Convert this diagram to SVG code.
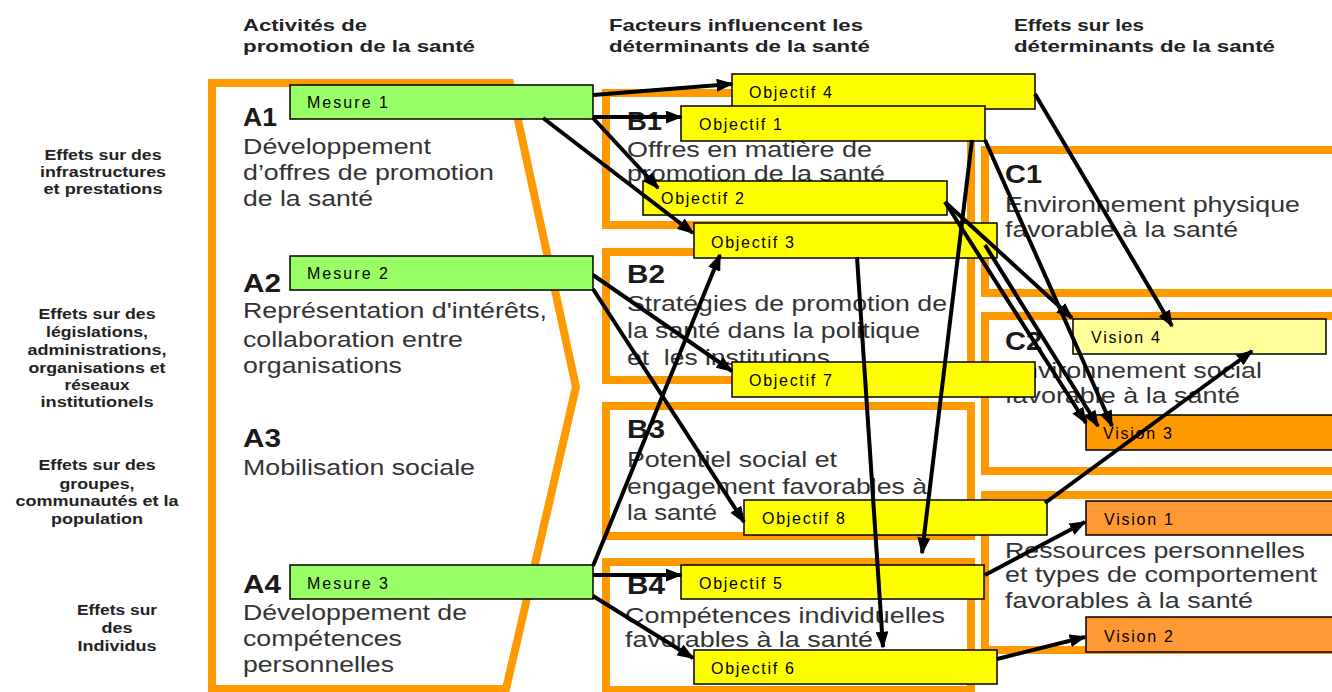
<svg xmlns="http://www.w3.org/2000/svg" width="1332" height="692" viewBox="0 0 1332 692">
<style>
.hd{font-family:"Liberation Sans",Arial,sans-serif;font-weight:bold;font-size:17px;fill:#222}
.lb{font-family:"Liberation Sans",Arial,sans-serif;font-weight:bold;font-size:14px;fill:#222;text-anchor:middle}
.id{font-family:"Liberation Sans",Arial,sans-serif;font-weight:bold;font-size:26px;fill:#1a1a1a}
.bd{font-family:"Liberation Sans",Arial,sans-serif;font-size:22px;fill:#333;white-space:pre}
.bx{font-family:"Liberation Sans",Arial,sans-serif;font-size:16px;fill:#000}
.fr{fill:none;stroke:#FF9900;stroke-width:8}
.mes{fill:#99FF66;stroke:#000;stroke-width:1.5}
.obj{fill:#FFFF00;stroke:#000;stroke-width:1.5}
.v4{fill:#FFFF99;stroke:#000;stroke-width:1.5}
.v3{fill:#FF9900;stroke:#000;stroke-width:1.5}
.v1{fill:#FF9933;stroke:#000;stroke-width:1.5}
.cn{stroke:#000;stroke-width:4;fill:none;marker-end:url(#ah)}
</style>
<defs>
<marker id="ah" viewBox="0 0 10 10" refX="9" refY="5" markerWidth="17" markerHeight="13" markerUnits="userSpaceOnUse" orient="auto" preserveAspectRatio="none">
<path d="M0,0 L10,5 L0,10 z" fill="#000"/>
</marker>
</defs>
<rect width="1332" height="692" fill="#fff"/>

<g id="headers">
<text class="hd" x="243" y="31" textLength="124" lengthAdjust="spacingAndGlyphs">Activités de</text>
<text class="hd" x="243" y="52" textLength="232" lengthAdjust="spacingAndGlyphs">promotion de la santé</text>
<text class="hd" x="609" y="31" textLength="254" lengthAdjust="spacingAndGlyphs">Facteurs influencent les</text>
<text class="hd" x="609" y="52" textLength="261" lengthAdjust="spacingAndGlyphs">déterminants de la santé</text>
<text class="hd" x="1014" y="31" textLength="130" lengthAdjust="spacingAndGlyphs">Effets sur les</text>
<text class="hd" x="1014" y="52" textLength="261" lengthAdjust="spacingAndGlyphs">déterminants de la santé</text>
</g>

<g id="side-labels">
<text class="lb" x="103" y="160" textLength="117" lengthAdjust="spacingAndGlyphs">Effets sur des</text>
<text class="lb" x="103" y="177" textLength="126" lengthAdjust="spacingAndGlyphs">infrastructures</text>
<text class="lb" x="103" y="194" textLength="119" lengthAdjust="spacingAndGlyphs">et prestations</text>
<text class="lb" x="97" y="319" textLength="117" lengthAdjust="spacingAndGlyphs">Effets sur des</text>
<text class="lb" x="97" y="337" textLength="102" lengthAdjust="spacingAndGlyphs">législations,</text>
<text class="lb" x="97" y="355" textLength="139" lengthAdjust="spacingAndGlyphs">administrations,</text>
<text class="lb" x="97" y="373" textLength="137" lengthAdjust="spacingAndGlyphs">organisations et</text>
<text class="lb" x="97" y="390" textLength="65" lengthAdjust="spacingAndGlyphs">réseaux</text>
<text class="lb" x="97" y="407" textLength="113" lengthAdjust="spacingAndGlyphs">institutionels</text>
<text class="lb" x="97" y="470" textLength="117" lengthAdjust="spacingAndGlyphs">Effets sur des</text>
<text class="lb" x="97" y="489" textLength="75" lengthAdjust="spacingAndGlyphs">groupes,</text>
<text class="lb" x="97" y="506" textLength="163" lengthAdjust="spacingAndGlyphs">communautés et la</text>
<text class="lb" x="97" y="524" textLength="92" lengthAdjust="spacingAndGlyphs">population</text>
<text class="lb" x="117" y="615" textLength="80" lengthAdjust="spacingAndGlyphs">Effets sur</text>
<text class="lb" x="117" y="633" textLength="31" lengthAdjust="spacingAndGlyphs">des</text>
<text class="lb" x="117" y="651" textLength="79" lengthAdjust="spacingAndGlyphs">Individus</text>
</g>

<g id="frame-A">
<path class="fr" stroke-width="9" d="M212,83 L510,83 L576,387 L506,689 L212,689 Z"/>
<text class="id" x="243" y="126" textLength="34" lengthAdjust="spacingAndGlyphs">A1</text>
<text class="bd" x="243" y="154" textLength="188" lengthAdjust="spacingAndGlyphs">Développement</text>
<text class="bd" x="243" y="180" textLength="251" lengthAdjust="spacingAndGlyphs">d’offres de promotion</text>
<text class="bd" x="243" y="206" textLength="130" lengthAdjust="spacingAndGlyphs">de la santé</text>
<text class="id" x="243" y="292" textLength="38" lengthAdjust="spacingAndGlyphs">A2</text>
<text class="bd" x="243" y="318" textLength="304" lengthAdjust="spacingAndGlyphs">Représentation d'intérêts,</text>
<text class="bd" x="243" y="347" textLength="220" lengthAdjust="spacingAndGlyphs">collaboration entre</text>
<text class="bd" x="243" y="373" textLength="159" lengthAdjust="spacingAndGlyphs">organisations</text>
<text class="id" x="243" y="447" textLength="38" lengthAdjust="spacingAndGlyphs">A3</text>
<text class="bd" x="243" y="475" textLength="232" lengthAdjust="spacingAndGlyphs">Mobilisation sociale</text>
<text class="id" x="243" y="593" textLength="38" lengthAdjust="spacingAndGlyphs">A4</text>
<text class="bd" x="243" y="620" textLength="224" lengthAdjust="spacingAndGlyphs">Développement de</text>
<text class="bd" x="243" y="646" textLength="159" lengthAdjust="spacingAndGlyphs">compétences</text>
<text class="bd" x="243" y="672" textLength="151" lengthAdjust="spacingAndGlyphs">personnelles</text>
</g>

<g id="frame-B1">
<rect class="fr" x="606" y="93" width="365" height="132"/>
<text class="id" x="627" y="130" textLength="35" lengthAdjust="spacingAndGlyphs">B1</text>
<text class="bd" x="627" y="157" textLength="245" lengthAdjust="spacingAndGlyphs">Offres en matière de</text>
<text class="bd" x="627" y="181" textLength="258" lengthAdjust="spacingAndGlyphs">promotion de la santé</text>
</g>
<g id="frame-B2">
<rect class="fr" x="606" y="252" width="365" height="128"/>
<text class="id" x="627" y="283" textLength="38" lengthAdjust="spacingAndGlyphs">B2</text>
<text class="bd" x="627" y="311" textLength="320" lengthAdjust="spacingAndGlyphs">Stratégies de promotion de</text>
<text class="bd" x="627" y="338" textLength="293" lengthAdjust="spacingAndGlyphs">la santé dans la politique</text>
<text class="bd" x="627" y="365" textLength="203" lengthAdjust="spacingAndGlyphs" xml:space="preserve">et  les institutions</text>
</g>
<g id="frame-B3">
<rect class="fr" x="606" y="406" width="365" height="130"/>
<text class="id" x="627" y="438" textLength="38" lengthAdjust="spacingAndGlyphs">B3</text>
<text class="bd" x="627" y="467" textLength="210" lengthAdjust="spacingAndGlyphs">Potentiel social et</text>
<text class="bd" x="627" y="494" textLength="300" lengthAdjust="spacingAndGlyphs">engagement favorables à</text>
<text class="bd" x="627" y="520" textLength="90" lengthAdjust="spacingAndGlyphs">la santé</text>
</g>
<g id="frame-B4">
<rect class="fr" x="606" y="562" width="365" height="128"/>
<text class="id" x="627" y="594" textLength="38" lengthAdjust="spacingAndGlyphs">B4</text>
<text class="bd" x="625" y="623" textLength="320" lengthAdjust="spacingAndGlyphs">Compétences individuelles</text>
<text class="bd" x="625" y="647" textLength="248" lengthAdjust="spacingAndGlyphs">favorables à la santé</text>
</g>

<g id="frame-C1">
<rect class="fr" stroke-width="7" x="985" y="150" width="400" height="143"/>
<text class="id" x="1005" y="183" textLength="37" lengthAdjust="spacingAndGlyphs">C1</text>
<text class="bd" x="1005" y="212" textLength="295" lengthAdjust="spacingAndGlyphs">Environnement physique</text>
<text class="bd" x="1005" y="237" textLength="233" lengthAdjust="spacingAndGlyphs">favorable à la santé</text>
</g>
<g id="frame-C2">
<rect class="fr" stroke-width="7" x="985" y="316" width="400" height="155"/>
<text class="id" x="1005" y="350" textLength="37" lengthAdjust="spacingAndGlyphs">C2</text>
<text class="bd" x="1005" y="378" textLength="257" lengthAdjust="spacingAndGlyphs">Environnement social</text>
<text class="bd" x="1005" y="403" textLength="235" lengthAdjust="spacingAndGlyphs">favorable à la santé</text>
</g>
<g id="frame-C3">
<rect class="fr" stroke-width="7" x="985" y="495" width="400" height="155"/>
<text class="bd" x="1005" y="558" textLength="300" lengthAdjust="spacingAndGlyphs">Ressources personnelles</text>
<text class="bd" x="1005" y="582" textLength="312" lengthAdjust="spacingAndGlyphs">et types de comportement</text>
<text class="bd" x="1005" y="608" textLength="248" lengthAdjust="spacingAndGlyphs">favorables à la santé</text>
</g>

<g id="mesure-1"><rect class="mes" x="290" y="85" width="303" height="34"/><text class="bx" x="307" y="108" textLength="81" lengthAdjust="spacing">Mesure 1</text></g>
<g id="mesure-2"><rect class="mes" x="290" y="256" width="303" height="34"/><text class="bx" x="307" y="279" textLength="81" lengthAdjust="spacing">Mesure 2</text></g>
<g id="mesure-3"><rect class="mes" x="290" y="565" width="303" height="34"/><text class="bx" x="307" y="589" textLength="81" lengthAdjust="spacing">Mesure 3</text></g>

<g id="objectif-4"><rect class="obj" x="732" y="74" width="303" height="35"/><text class="bx" x="749" y="98" textLength="83" lengthAdjust="spacing">Objectif 4</text></g>
<g id="objectif-1"><rect class="obj" x="681" y="106" width="304" height="35"/><text class="bx" x="699" y="130" textLength="83" lengthAdjust="spacing">Objectif 1</text></g>
<g id="objectif-2"><rect class="obj" x="643" y="181" width="304" height="34"/><text class="bx" x="661" y="204" textLength="83" lengthAdjust="spacing">Objectif 2</text></g>
<g id="objectif-3"><rect class="obj" x="694" y="223" width="303" height="35"/><text class="bx" x="711" y="248" textLength="83" lengthAdjust="spacing">Objectif 3</text></g>
<g id="objectif-7"><rect class="obj" x="732" y="362" width="303" height="35"/><text class="bx" x="749" y="386" textLength="83" lengthAdjust="spacing">Objectif 7</text></g>
<g id="objectif-8"><rect class="obj" x="744" y="500" width="303" height="35"/><text class="bx" x="762" y="524" textLength="83" lengthAdjust="spacing">Objectif 8</text></g>
<g id="objectif-5"><rect class="obj" x="681" y="565" width="303" height="34"/><text class="bx" x="699" y="589" textLength="83" lengthAdjust="spacing">Objectif 5</text></g>
<g id="objectif-6"><rect class="obj" x="694" y="650" width="303" height="34"/><text class="bx" x="711" y="674" textLength="83" lengthAdjust="spacing">Objectif 6</text></g>

<g id="vision-4"><rect class="v4" x="1073" y="319" width="253" height="35"/><text class="bx" x="1091" y="343" textLength="69" lengthAdjust="spacing">Vision 4</text></g>
<g id="vision-3"><rect class="v3" x="1086" y="415" width="260" height="35"/><text class="bx" x="1103" y="439" textLength="69" lengthAdjust="spacing">Vision 3</text></g>
<g id="vision-1"><rect class="v1" x="1086" y="501" width="260" height="34"/><text class="bx" x="1104" y="525" textLength="69" lengthAdjust="spacing">Vision 1</text></g>
<g id="vision-2"><rect class="v1" x="1086" y="617" width="260" height="35"/><text class="bx" x="1104" y="642" textLength="69" lengthAdjust="spacing">Vision 2</text></g>

<g id="connectors">
<line class="cn" x1="593" y1="95" x2="732" y2="84"/>
<line class="cn" x1="593" y1="117" x2="681" y2="117"/>
<line class="cn" x1="593" y1="118" x2="658" y2="188"/>
<line class="cn" x1="543" y1="118" x2="693" y2="233"/>
<line class="cn" x1="593" y1="275" x2="732" y2="371"/>
<line class="cn" x1="593" y1="289" x2="744" y2="522"/>
<line class="cn" x1="593" y1="566" x2="720" y2="255"/>
<line class="cn" x1="593" y1="575" x2="681" y2="575"/>
<line class="cn" x1="593" y1="596" x2="693" y2="658"/>
<line class="cn" x1="1035" y1="94" x2="1172" y2="326"/>
<line class="cn" x1="985" y1="140" x2="1112" y2="426"/>
<line class="cn" x1="972" y1="140" x2="922" y2="553"/>
<line class="cn" x1="945" y1="202" x2="1072" y2="318"/>
<line class="cn" x1="945" y1="202" x2="1086" y2="423"/>
<line class="cn" x1="985" y1="245" x2="1098" y2="426"/>
<line class="cn" x1="857" y1="257" x2="883" y2="647"/>
<line class="cn" x1="1045" y1="503" x2="1252" y2="351"/>
<line class="cn" x1="985" y1="575" x2="1085" y2="522"/>
<line class="cn" x1="997" y1="659" x2="1085" y2="637"/>
</g>
</svg>
